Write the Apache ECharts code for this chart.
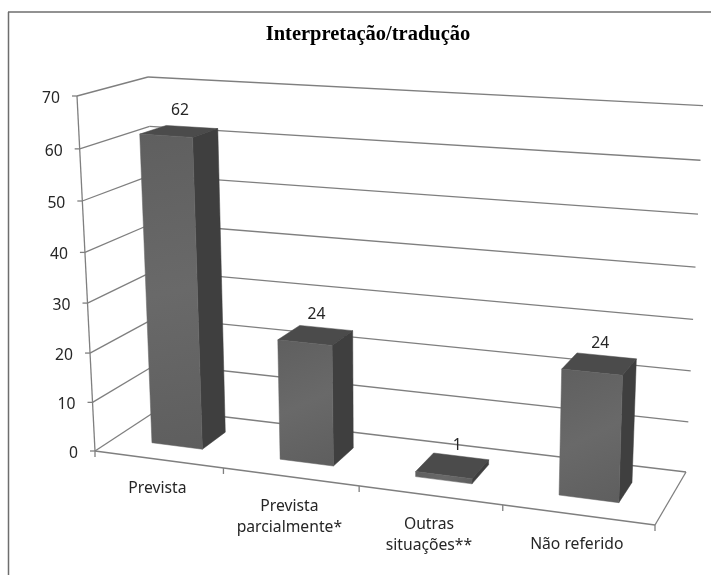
<!DOCTYPE html>
<html>
<head>
<meta charset="utf-8">
<style>html,body{margin:0;padding:0;background:#fff}#chart{width:711px;height:575px}</style>
<script src="https://cdn.jsdelivr.net/npm/echarts@6/dist/echarts.min.js"></script>
</head>
<body>
<div id="chart"></div>
<script>
// Chart content
const chartTitle = 'Interpretação/tradução';
const categories = ['Prevista', 'Prevista\nparcialmente*', 'Outras\nsituações**', 'Não referido'];
const counts = [62, 24, 1, 24];
const valueTicks = [0, 10, 20, 30, 40, 50, 60, 70];

// Flat plotting plane used by the axes; its pixels are re-projected onto the box below.
const plane = { left: 100, top: 100, width: 400, height: 280 };

// Corners of the perspective box: floor and ceiling of the value range.
const floorQuad = { fl: [95, 451], fr: [655, 525], br: [686, 472], bl: [159, 409] };
const ceilQuad = { fl: [77, 96], fr: [667, 129], br: [703, 105.7], bl: [148, 77] };
const widthPerspective = 1.12;
const heightPerspective = 1.05;
const barFront = 0.31, barBack = 0.7, barShare = 0.4;

const LINE = '#7f7f7f';
const TEXT = '#262626';
const SANS = '"Noto Sans", "Open Sans", sans-serif';
const LABEL_SIZE = 15.7;

const lerp = (a, b, t) => [a[0] + (b[0] - a[0]) * t, a[1] + (b[1] - a[1]) * t];
const warp = (x, b) => x / (b - (b - 1) * x);

function project(u, d, h) {
  const t = warp(u, widthPerspective);
  const v = warp(h, heightPerspective);
  const low = lerp(lerp(floorQuad.fl, floorQuad.fr, t), lerp(floorQuad.bl, floorQuad.br, t), d);
  const high = lerp(lerp(ceilQuad.fl, ceilQuad.fr, t), lerp(ceilQuad.bl, ceilQuad.br, t), d);
  return lerp(low, high, v);
}

// Position on the flat plane as fractions of its size, taken from the axis scales.
function planeFraction(api, cat, val) {
  const p = api.coord([cat, val]);
  return [(p[0] - plane.left) / plane.width, (plane.top + plane.height - p[1]) / plane.height];
}

const seg = (a, b, w) => ({
  type: 'line',
  shape: { x1: a[0], y1: a[1], x2: b[0], y2: b[1] },
  style: { stroke: LINE, lineWidth: w || 1.3 }
});
const poly = (points, fill) => ({
  type: 'polygon',
  shape: { points },
  style: { fill, stroke: fill, lineWidth: 0.5 }
});

function renderWallLine(params, api) {
  const h = planeFraction(api, 0, api.value(0))[1];
  const front = project(0, 0, h), corner = project(0, 1, h), far = project(1, 1, h);
  return {
    type: 'group',
    children: [
      seg(front, corner),
      seg(corner, far),
      seg(front, [front[0] - 5, front[1]]),
      {
        type: 'text',
        style: {
          text: String(api.value(0)),
          x: front[0] - 17,
          y: front[1] + 2.5,
          align: 'right',
          verticalAlign: 'middle',
          fontFamily: SANS,
          fontSize: LABEL_SIZE,
          fill: TEXT
        }
      }
    ]
  };
}

function renderFrame() {
  const children = [
    seg(project(0, 0, 0), project(0, 0, 1)),
    seg(project(0, 0, 0), project(1, 0, 0)),
    seg(project(1, 0, 0), project(1, 1, 0))
  ];
  for (let k = 0; k <= categories.length; k++) {
    const p = project(k / categories.length, 0, 0);
    children.push(seg(p, [p[0], p[1] + 6]));
  }
  return { type: 'group', children };
}

function renderCategoryLabel(params, api) {
  const u = planeFraction(api, api.value(0), 0)[0];
  const p = project(u, 0, 0);
  return {
    type: 'text',
    style: {
      text: categories[params.dataIndex],
      x: p[0] - 1,
      y: p[1] + 18.5,
      align: 'center',
      verticalAlign: 'top',
      fontFamily: SANS,
      fontSize: LABEL_SIZE,
      lineHeight: 21.5,
      fill: TEXT
    }
  };
}

function renderBar(params, api) {
  const cat = api.value(0), val = api.value(1);
  const [u, h] = planeFraction(api, cat, val);
  const half = (api.size([1, 0])[0] / plane.width) * barShare / 2;
  const uL = u - half, uR = u + half;
  const P = (a, d, z) => project(a, d, z);
  const gradient = {
    type: 'linear', x: 0, y: 0, x2: 1, y2: 1,
    colorStops: [
      { offset: 0, color: '#5f5f5f' },
      { offset: 0.5, color: '#696969' },
      { offset: 1, color: '#5e5e5e' }
    ]
  };
  const topCentre = P(u, (barFront + barBack) / 2, h);
  // A very short bar keeps its label clear of the top face's near corner.
  const labelShift = h < 0.05 ? 5 : 1;
  return {
    type: 'group',
    children: [
      poly([P(uL, barBack, h), P(uR, barBack, h), P(uR, barFront, h), P(uL, barFront, h)], '#4b4b4b'),
      poly([P(uR, barFront, 0), P(uR, barBack, 0), P(uR, barBack, h), P(uR, barFront, h)], '#3f3f3f'),
      poly([P(uL, barFront, 0), P(uR, barFront, 0), P(uR, barFront, h), P(uL, barFront, h)], gradient),
      {
        type: 'text',
        style: {
          text: String(val),
          x: topCentre[0] + labelShift,
          y: topCentre[1] - 20.5,
          align: 'center',
          verticalAlign: 'middle',
          fontFamily: SANS,
          fontSize: LABEL_SIZE,
          fill: TEXT
        }
      }
    ]
  };
}

const chart = echarts.init(document.getElementById('chart'), null, { renderer: 'canvas' });
chart.setOption({
  animation: false,
  backgroundColor: '#fff',
  title: {
    text: chartTitle,
    left: 363,
    top: 19,
    textAlign: 'center',
    textStyle: { fontFamily: '"Liberation Serif", serif', fontWeight: 'bold', fontSize: 20.5, color: '#000' }
  },
  graphic: [
    { type: 'line', shape: { x1: 8.5, y1: 12, x2: 8.5, y2: 575 }, style: { stroke: '#6e6e6e', lineWidth: 1.5 } },
    { type: 'line', shape: { x1: 8, y1: 12, x2: 711, y2: 12 }, style: { stroke: '#6e6e6e', lineWidth: 1.5 } }
  ],
  grid: plane,
  xAxis: { type: 'category', data: categories, show: false },
  yAxis: { type: 'value', min: 0, max: 70, interval: 10, show: false },
  series: [
    {
      type: 'custom',
      coordinateSystem: 'cartesian2d',
      clip: false,
      silent: true,
      z: 1,
      encode: { x: 1, y: 0 },
      data: valueTicks.map(v => [v, 0]),
      renderItem: renderWallLine
    },
    {
      type: 'custom',
      coordinateSystem: 'cartesian2d',
      clip: false,
      silent: true,
      z: 2,
      data: [[0, 0]],
      renderItem: renderFrame
    },
    {
      type: 'custom',
      coordinateSystem: 'cartesian2d',
      clip: false,
      silent: true,
      z: 3,
      data: categories.map((c, i) => [i, 0]),
      renderItem: renderCategoryLabel
    },
    {
      type: 'custom',
      coordinateSystem: 'cartesian2d',
      clip: false,
      silent: true,
      z: 4,
      encode: { x: 0, y: 1 },
      data: counts.map((v, i) => [i, v]),
      renderItem: renderBar
    }
  ]
});
</script>
</body>
</html>
